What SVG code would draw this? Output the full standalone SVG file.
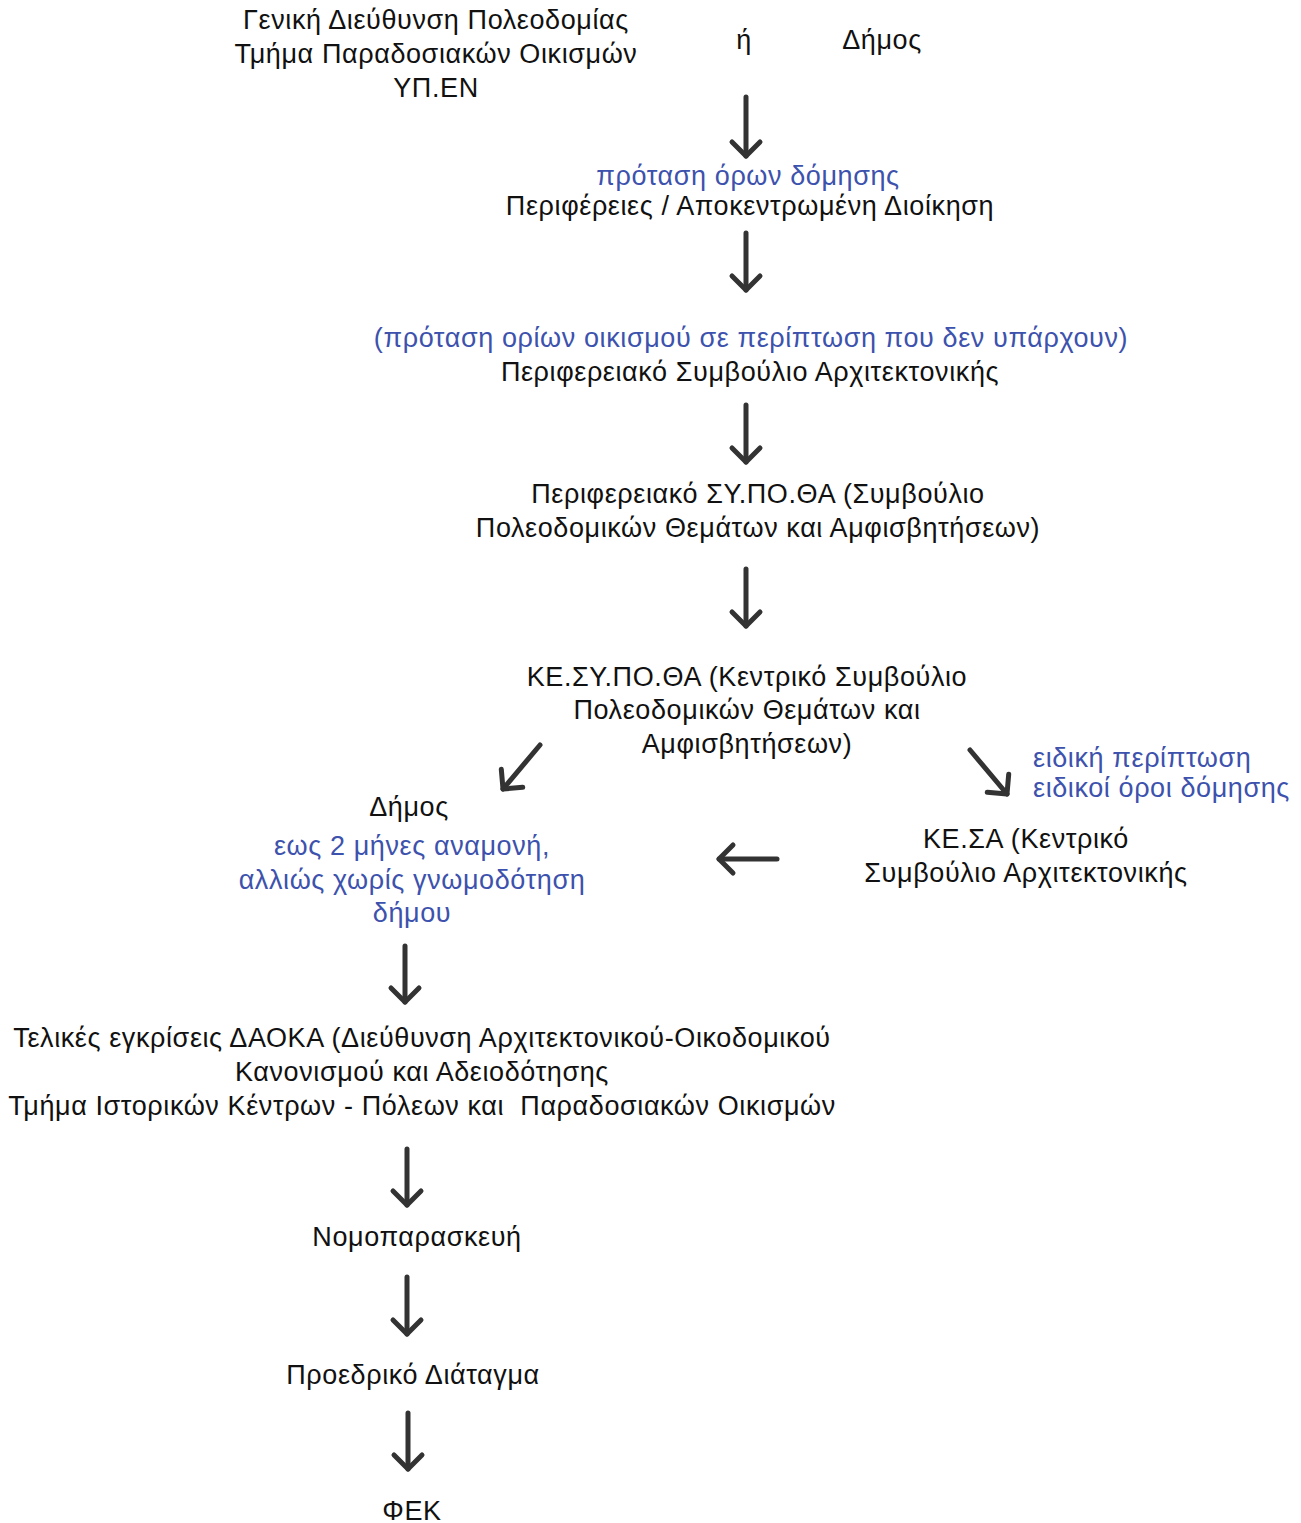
<svg xmlns="http://www.w3.org/2000/svg" width="1301" height="1523" viewBox="0 0 1301 1523">
<defs>
<style>
text{font-family:"Liberation Sans",Arial,sans-serif;font-size:27px;letter-spacing:0.6px;fill:#111;text-anchor:middle}
.b{fill:#3d52ad}
.l{text-anchor:start}
.c{fill:none;stroke:#333;stroke-width:5;stroke-linecap:round;stroke-linejoin:round}
</style>
<marker id="ah" markerUnits="userSpaceOnUse" markerWidth="40" markerHeight="40" viewBox="-20 -20 40 40" refX="0" refY="0" orient="auto" overflow="visible">
<path d="M-14,-14 L0,0 L-14,14" fill="none" stroke="#333" stroke-width="5" stroke-linecap="round" stroke-linejoin="round"/>
</marker>
</defs>
<rect width="1301" height="1523" fill="#fff"/>
<g id="connectors">
<path class="c" d="M746,97 V156" marker-end="url(#ah)"/>
<path class="c" d="M746,233 V290" marker-end="url(#ah)"/>
<path class="c" d="M746,405 V462" marker-end="url(#ah)"/>
<path class="c" d="M746,569 V626" marker-end="url(#ah)"/>
<path class="c" d="M540,745 L503,789" marker-end="url(#ah)"/>
<path class="c" d="M970,750 L1007,794" marker-end="url(#ah)"/>
<path class="c" d="M777,859 H719" marker-end="url(#ah)"/>
<path class="c" d="M405,946 V1002" marker-end="url(#ah)"/>
<path class="c" d="M407,1149 V1205" marker-end="url(#ah)"/>
<path class="c" d="M407,1277 V1334" marker-end="url(#ah)"/>
<path class="c" d="M408,1413 V1469" marker-end="url(#ah)"/>
</g>
<g id="n-gdp">
<text x="436" y="29">Γενική Διεύθυνση Πολεοδομίας</text>
<text x="436" y="63">Τμήμα Παραδοσιακών Οικισμών</text>
<text x="436" y="97">ΥΠ.ΕΝ</text>
</g>
<g id="n-or"><text x="744" y="49">ή</text></g>
<g id="n-dimos1"><text x="882" y="49">Δήμος</text></g>
<g id="n-perifereies">
<text class="b" x="748" y="185">πρόταση όρων δόμησης</text>
<text x="750" y="215">Περιφέρειες / Αποκεντρωμένη Διοίκηση</text>
</g>
<g id="n-psa">
<text class="b" x="751" y="347">(πρόταση ορίων οικισμού σε περίπτωση που δεν υπάρχουν)</text>
<text x="750" y="381">Περιφερειακό Συμβούλιο Αρχιτεκτονικής</text>
</g>
<g id="n-sypotha">
<text x="758" y="503">Περιφερειακό ΣΥ.ΠΟ.ΘΑ (Συμβούλιο</text>
<text x="758" y="537">Πολεοδομικών Θεμάτων και Αμφισβητήσεων)</text>
</g>
<g id="n-kesypotha">
<text x="747" y="686">ΚΕ.ΣΥ.ΠΟ.ΘΑ (Κεντρικό Συμβούλιο</text>
<text x="747" y="719">Πολεοδομικών Θεμάτων και</text>
<text x="747" y="753">Αμφισβητήσεων)</text>
</g>
<g id="n-special">
<text class="b l" x="1033" y="767">ειδική περίπτωση</text>
<text class="b l" x="1033" y="797">ειδικοί όροι δόμησης</text>
</g>
<g id="n-dimos2">
<text x="409" y="816">Δήμος</text>
<text class="b" x="412" y="855">εως 2 μήνες αναμονή,</text>
<text class="b" x="412" y="889">αλλιώς χωρίς γνωμοδότηση</text>
<text class="b" x="412" y="922">δήμου</text>
</g>
<g id="n-kesa">
<text x="1026" y="848">ΚΕ.ΣΑ (Κεντρικό</text>
<text x="1026" y="882">Συμβούλιο Αρχιτεκτονικής</text>
</g>
<g id="n-daoka">
<text x="422" y="1047">Τελικές εγκρίσεις ΔΑΟΚΑ (Διεύθυνση Αρχιτεκτονικού-Οικοδομικού</text>
<text x="422" y="1081">Κανονισμού και Αδειοδότησης</text>
<text x="422" y="1115" xml:space="preserve">Τμήμα Ιστορικών Κέντρων - Πόλεων και  Παραδοσιακών Οικισμών</text>
</g>
<g id="n-nomo"><text x="417" y="1246">Νομοπαρασκευή</text></g>
<g id="n-pd"><text x="413" y="1384">Προεδρικό Διάταγμα</text></g>
<g id="n-fek"><text x="412" y="1520">ΦΕΚ</text></g>
</svg>
